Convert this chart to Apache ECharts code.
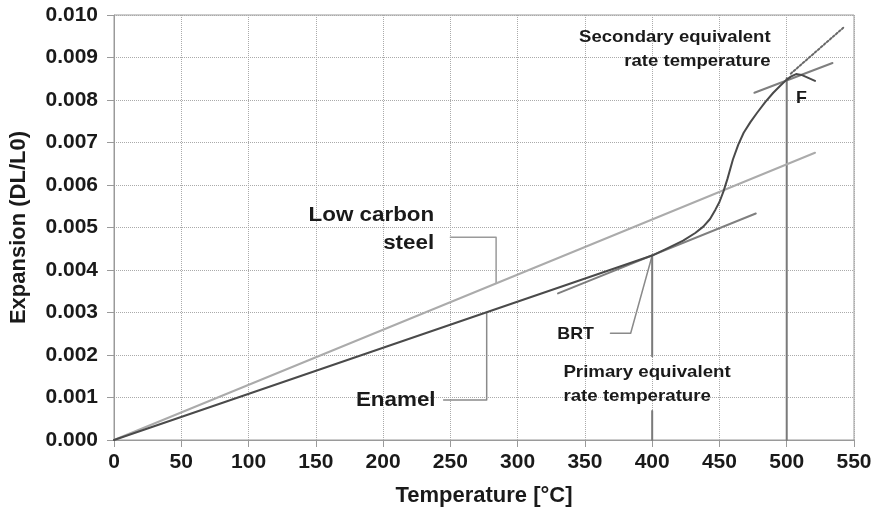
<!DOCTYPE html>
<html><head><meta charset="utf-8">
<script src="https://cdn.jsdelivr.net/npm/echarts@6/dist/echarts.min.js"></script>
<style>html,body{margin:0;padding:0;background:#fff}#c{width:880px;height:512px}</style>
</head><body><div id="c"></div>
<script>
// ---- data ----
var xTicks = [0,50,100,150,200,250,300,350,400,450,500,550];
var yTicks = [0.000,0.001,0.002,0.003,0.004,0.005,0.006,0.007,0.008,0.009,0.010];
var steelT = [0, 521];
var steelV = [0, 0.00676];
var enamelT = [0, 400, 412, 423, 432, 438, 443, 447, 450, 453, 456, 460, 464, 468, 473, 478, 484, 490, 495, 499, 503, 507, 511, 516, 521];
var enamelV = [0, 0.00434, 0.00452, 0.00469, 0.00487, 0.00502, 0.0052, 0.00542, 0.0056, 0.00585, 0.00615, 0.0066, 0.00695, 0.00723, 0.00748, 0.0077, 0.00795, 0.00817, 0.00833, 0.00845, 0.00855, 0.00861, 0.00859, 0.00852, 0.00845];
var tangent1T = [330, 477];
var tangent1V = [0.00345, 0.00533];
var tangent2T = [476, 534];
var tangent2V = [0.00817, 0.00887];
var extrapT = [503, 542];
var extrapV = [0.00862, 0.0097];
var primaryT = [400, 400, null, 400, 400];
var primaryV = [0.00434, 0.00197, null, 0.00068, 0];
var secondaryT = [500, 500];
var secondaryV = [0.00852, 0];
var steelLeaderT = [250, 284, 284];
var steelLeaderV = [0.00477, 0.00477, 0.00369];
var enamelLeaderT = [245, 277, 277];
var enamelLeaderV = [0.00094, 0.00094, 0.0030];
var brtLeaderT = [369, 384, 400];
var brtLeaderV = [0.00251, 0.00251, 0.00434];

function pts(t, v){ return t.map(function(x,i){ return x === null ? '-' : [x, v[i]]; }); }

var FONT = '"Liberation Sans", Arial, sans-serif';
var chart = echarts.init(document.getElementById('c'), null, {renderer:'canvas'});
function lineSeries(t, v, color, width, type){
  return {type:'line', data:pts(t,v), symbol:'none', smooth:false,
    connectNulls:false, animation:false, silent:true,
    lineStyle:{color:color, width:width, type:type||'solid', cap:'round', join:'round'}};
}
chart.setOption({
  animation:false,
  grid:{left:113, right:26, top:15, bottom:71, show:true, borderColor:'#9a9a9a', borderWidth:1},
  xAxis:{type:'value', min:0, max:550, interval:50,
    name:'Temperature [°C]', nameLocation:'middle', nameGap:45,
    nameTextStyle:{fontFamily:FONT, fontWeight:'bold', fontSize:22, color:'#1a1a1a'},
    axisLine:{lineStyle:{color:'#9a9a9a', width:1}},
    axisTick:{show:true, length:7, lineStyle:{color:'#9a9a9a'}},
    axisLabel:{fontFamily:FONT, fontWeight:'bold', fontSize:21, color:'#1a1a1a', margin:12,
      formatter:function(v){ return xTicks.indexOf(v) >= 0 ? String(v) : ''; }},
    splitLine:{show:true, lineStyle:{color:'#aaaaaa', type:'dotted', width:1}}},
  yAxis:{type:'value', min:0, max:0.010, interval:0.001,
    name:'Expansion (DL/L0)', nameLocation:'middle', nameGap:84, nameRotate:90,
    nameTextStyle:{fontFamily:FONT, fontWeight:'bold', fontSize:22, color:'#1a1a1a'},
    axisLine:{show:true, lineStyle:{color:'#9a9a9a', width:1}},
    axisTick:{show:true, length:7, lineStyle:{color:'#9a9a9a'}},
    axisLabel:{fontFamily:FONT, fontWeight:'bold', fontSize:21, color:'#1a1a1a', margin:16,
      formatter:function(v){ return v.toFixed(3); }},
    splitLine:{show:true, lineStyle:{color:'#aaaaaa', type:'dotted', width:1}}},
  series:[
    lineSeries(steelLeaderT, steelLeaderV, '#9a9a9a', 1.5),
    lineSeries(enamelLeaderT, enamelLeaderV, '#8a8a8a', 1.5),
    lineSeries(brtLeaderT, brtLeaderV, '#8a8a8a', 1.5),
    lineSeries(primaryT, primaryV, '#7a7a7a', 2),
    lineSeries(secondaryT, secondaryV, '#7a7a7a', 2),
    lineSeries(steelT, steelV, '#ababab', 2),
    lineSeries(tangent1T, tangent1V, '#7f7f7f', 2),
    lineSeries(tangent2T, tangent2V, '#7f7f7f', 2),
    lineSeries(extrapT, extrapV, '#6a6a6a', 2, 'dotted'),
    lineSeries(enamelT, enamelV, '#4a4a4a', 2)
  ]
});

// ---- annotations positioned in data coordinates ----
var notes = [
  {t:'Low carbon', x:238, y:0.00528, align:'right', size:20, sx:1.12},
  {t:'steel', x:238, y:0.00462, align:'right', size:20, sx:1.12},
  {t:'Enamel', x:239, y:0.00094, align:'right', size:20, sx:1.12},
  {t:'BRT', x:329.5, y:0.00249, align:'left', size:17, sx:1.05},
  {t:'Primary equivalent', x:334, y:0.0016, align:'left', size:17, sx:1.1},
  {t:'rate temperature', x:334, y:0.00103, align:'left', size:17, sx:1.1},
  {t:'Secondary equivalent', x:488, y:0.00948, align:'right', size:17, sx:1.09},
  {t:'rate temperature', x:488, y:0.0089, align:'right', size:17, sx:1.09},
  {t:'F', x:511, y:0.00805, align:'center', size:17, sx:1.05}
];
var g = notes.map(function(n){
  var p = chart.convertToPixel({gridIndex:0}, [n.x, n.y]);
  return {type:'text', x:p[0], y:p[1], scaleX:n.sx, scaleY:1, silent:true,
    style:{text:n.t, textAlign:n.align, textVerticalAlign:'middle',
      font:'bold ' + n.size + 'px ' + FONT, fill:'#1a1a1a'}};
});
chart.setOption({graphic:g});
</script>
</body></html>
